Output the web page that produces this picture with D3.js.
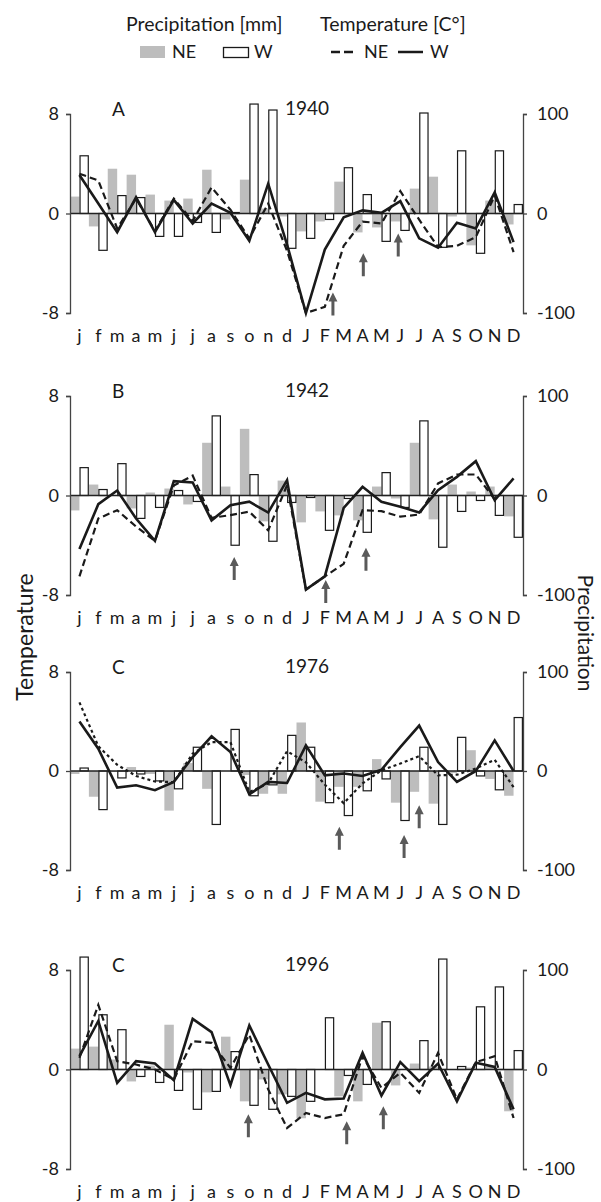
<!DOCTYPE html>
<html>
<head>
<meta charset="utf-8">
<script src="https://cdn.jsdelivr.net/npm/d3@7"></script>
<style>
  html, body { margin: 0; padding: 0; background: #fff; }
  svg { display: block; font-family: Lato, "Open Sans", sans-serif; }
</style>
</head>
<body>
<svg id="chart"></svg>
<script>
// ---------------- DATA ----------------
const months = ["j","f","m","a","m","j","j","a","s","o","n","d",
                "J","F","M","A","M","J","J","A","S","O","N","D"];
const panelLetters = ["A", "B", "C", "C"];
const panelYears = ["1940", "1942", "1976", "1996"];
const tempTicks = [-8, 0, 8];
const precTicks = [-100, 0, 100];

// 1940
const precNE1940 = [17, -13, 45, 39, 19, 13, 15, 44, -6, 34, 5, -3, -18, -8, 32, -19, -14, -8, 25, 37, -3, -32, 13, -11];
const precW1940  = [58, -37, 18, 16, -23, -23, -9, -19, 1, 110, 104, -35, -25, -6, 46, 19, -28, -17, 101, -34, 63, -40, 63, 9];
const tempNE1940 = [3.2, 2.65, -1.2, 1.2, -1.4, 1.2, -0.6, 2.1, 0.3, -2.0, 0.8, -3.0, -8.0, -7.5, -2.6, -0.65, -0.8, 1.8, -0.5, -2.7, -2.6, -1.9, 1.45, -3.1];
const tempW1940  = [3.1, 0.8, -1.5, 1.3, -1.5, 1.1, -0.8, 0.8, 0.05, -2.2, 2.4, -2.5, -8.0, -2.9, -0.3, 0.25, 0.05, 1.0, -2.0, -2.75, -0.75, -1.2, 1.7, -2.3];
const arrowPos1940 = [13.93, 15.54, 17.39];
const arrowTip1940 = [-6.35, -3.2, -1.6];

// 1942
const precNE1942 = [-15, 11, 0, -13, 3, 7, -9, 53, 9, 67, -26, 15, -27, -16, -20, -25, 9, -3, 53, -24, 11, 4, 9, -21];
const precW1942  = [28, 6, 32, -23, -12, 5, -6, 80, -50, 21, -46, -7, -2, -35, -3, -37, 23, -12, 75, -52, -16, -5, -20, -42];
const tempNE1942 = [-6.5, -1.85, -1.18, -2.5, -3.65, 0.8, 1.6, -1.8, -1.58, -1.3, -2.8, 0.83, -7.56, -6.5, -5.5, -1.18, -1.26, -1.7, -1.53, 0.97, 1.69, 1.69, -0.3, null];
const tempW1942  = [-4.3, -0.7, 0.4, -1.85, -3.65, 1.15, 1.05, -2.0, -0.78, -0.5, -1.37, 1.23, -7.56, -6.5, -1.0, 0.7, -0.5, -0.9, -1.37, 0.43, 1.5, 2.76, -0.38, 1.37];
const arrowPos1942 = [8.70, 13.55, 15.68];
const arrowTip1942 = [-4.94, -6.8, -4.2];

// 1976
const precNE1976 = [-3, -26, -1, 4, -3, -40, 8, -18, 0, -4, -23, -23, 49, -31, -16, -16, 12, -32, -21, -33, -2, 21, -8, -25];
const precW1976  = [3, -39, -7, -3, -10, -18, 24, -54, 42, -25, -14, 36, 24, -32, -45, -20, -8, -50, 24, -54, 34, -5, -19, 54];
const tempNE1976 = [5.55, 2.0, 0.5, -0.4, -0.85, -0.9, 1.4, 2.33, 2.33, -1.7, -1.0, 1.6, 0.7, -1.1, -2.6, -1.0, 0.05, 0.6, 1.2, -0.35, -0.3, 0.2, 0.9, -1.3];
const tempW1976  = [4.0, 1.8, -1.34, -1.15, -1.55, -0.88, 1.13, 2.8, 1.53, -1.88, -0.88, -0.97, 2.06, -0.35, -0.2, -0.4, 0.1, 1.93, 3.67, 0.72, -0.88, 0, 2.47, 0];
const arrowPos1976 = [14.27, 17.7, 18.5];
const arrowTip1976 = [-4.5, -5.17, -2.76];

// 1996
const precNE1996 = [21, 23, 10, -12, 4, 45, -3, -23, 33, -32, -10, -25, -49, 0, -27, -32, 47, -16, 6, 3, 0, 2, 3, -42];
const precW1996  = [113, 55, 40, -7, -13, -21, -40, -22, 18, -36, -40, -27, -32, 52, -6, -15, 48, 0, 29, 111, 3, 63, 83, 19];
const tempNE1996 = [0.94, 5.2, 0.67, 0.4, 0, -0.8, 2.28, 2.14, 0.13, 2.8, -1.6, -4.7, -3.5, -3.9, -3.6, 1.07, -1.47, -0.27, -1.88, 1.34, -2.4, 0.59, 1.07, -3.9];
const tempW1996  = [1.07, 3.9, -1.07, 0.67, 0.48, -0.86, 4.07, 3.0, -1.26, 3.54, 0.4, -2.68, -1.88, -2.4, -2.33, 1.34, -2.1, 0.59, -0.94, 0.48, -2.55, 0.54, 0.21, -3.2];
const arrowPos1996 = [9.45, 14.66, 16.6];
const arrowTip1996 = [-3.6, -4.16, -2.95];

// ---------------- LAYOUT ----------------
const W = 601, H = 1202;
const left = 70, right = 523;
const panelTop = [114, 396, 672, 970];
const panelBottom = [313, 595, 870, 1169];
const neDash = ["7,4", "7,4", "3,3", "7,4"];

const panels = [
  {precNE: precNE1940, precW: precW1940, tempNE: tempNE1940, tempW: tempW1940, aPos: arrowPos1940, aTip: arrowTip1940},
  {precNE: precNE1942, precW: precW1942, tempNE: tempNE1942, tempW: tempW1942, aPos: arrowPos1942, aTip: arrowTip1942},
  {precNE: precNE1976, precW: precW1976, tempNE: tempNE1976, tempW: tempW1976, aPos: arrowPos1976, aTip: arrowTip1976},
  {precNE: precNE1996, precW: precW1996, tempNE: tempNE1996, tempW: tempW1996, aPos: arrowPos1996, aTip: arrowTip1996}
];

const svg = d3.select("#chart").attr("width", W).attr("height", H);
const ink = "#1a1a1a", axisCol = "#444", greyBar = "#bdbdbd", arrowCol = "#5a5a5a";

// ---------------- LEGEND ----------------
const lg = svg.append("g").attr("fill", ink);
lg.append("text").attr("x", 126).attr("y", 31).attr("font-size", 19.5).text("Precipitation [mm]");
lg.append("text").attr("x", 320).attr("y", 31).attr("font-size", 19.5).text("Temperature [C°]");
lg.append("rect").attr("x", 140).attr("y", 46).attr("width", 25).attr("height", 12).attr("fill", greyBar);
lg.append("text").attr("x", 172).attr("y", 58).attr("font-size", 18).text("NE");
lg.append("rect").attr("x", 223.5).attr("y", 47.5).attr("width", 25).attr("height", 10)
  .attr("fill", "#fff").attr("stroke", ink).attr("stroke-width", 1.3);
lg.append("text").attr("x", 254).attr("y", 58).attr("font-size", 18).text("W");
lg.append("line").attr("x1", 331).attr("x2", 354).attr("y1", 52).attr("y2", 52)
  .attr("stroke", ink).attr("stroke-width", 2.5).attr("stroke-dasharray", "9,4");
lg.append("text").attr("x", 364).attr("y", 58).attr("font-size", 18).text("NE");
lg.append("line").attr("x1", 398).attr("x2", 423).attr("y1", 52).attr("y2", 52)
  .attr("stroke", ink).attr("stroke-width", 2.5);
lg.append("text").attr("x", 430).attr("y", 58).attr("font-size", 18).text("W");

// ---------------- AXIS TITLES ----------------
svg.append("text").attr("transform", "translate(33,637) rotate(-90)")
  .attr("text-anchor", "middle").attr("font-size", 23).attr("fill", ink).text("Temperature");
svg.append("text").attr("transform", "translate(578,633) rotate(90)")
  .attr("text-anchor", "middle").attr("font-size", 21).attr("fill", ink).text("Precipitation");

// ---------------- PANELS ----------------
const x = d3.scaleBand().domain(d3.range(months.length)).range([left, right]).padding(0);
const xl = d3.scaleLinear().domain([0, months.length]).range([left, right]);
const bw = x.bandwidth();

panels.forEach((p, k) => {
  const yT = d3.scaleLinear().domain([-8, 8]).range([panelBottom[k], panelTop[k]]);
  const yP = d3.scaleLinear().domain([-100, 100]).range([panelBottom[k], panelTop[k]]);
  const g = svg.append("g");

  // NE bars (grey)
  g.append("g").selectAll("rect").data(p.precNE).join("rect")
    .attr("x", (d, i) => x(i))
    .attr("width", bw / 2)
    .attr("y", d => yP(Math.max(0, d)))
    .attr("height", d => Math.abs(yP(d) - yP(0)))
    .attr("fill", greyBar);

  // W bars (white, outlined)
  g.append("g").selectAll("rect").data(p.precW).join("rect")
    .attr("x", (d, i) => x(i) + bw / 2 + 0.6)
    .attr("width", bw / 2 - 1.2)
    .attr("y", d => yP(Math.max(0, d)))
    .attr("height", d => Math.abs(yP(d) - yP(0)))
    .attr("fill", "#fff").attr("stroke", ink).attr("stroke-width", 1.2);

  // zero line
  g.append("line").attr("x1", left).attr("x2", right)
    .attr("y1", yT(0)).attr("y2", yT(0))
    .attr("stroke", "#222").attr("stroke-width", 1.5);

  // left axis
  const ax = g.append("g").attr("transform", `translate(${left},0)`)
    .call(d3.axisLeft(yT).tickValues(tempTicks).tickSize(4).tickSizeOuter(4).tickPadding(7)
      .tickFormat(d => String(d)));
  // right axis
  const ay = g.append("g").attr("transform", `translate(${right},0)`)
    .call(d3.axisRight(yP).tickValues(precTicks).tickSize(4).tickSizeOuter(4).tickPadding(10)
      .tickFormat(d => String(d)));
  [ax, ay].forEach(a => {
    a.selectAll("path, line").attr("stroke", axisCol).attr("stroke-width", 1.3);
    a.selectAll("text").attr("font-size", 18).attr("fill", ink)
      .attr("font-family", 'Lato, "Open Sans", sans-serif');
  });

  // lines
  const line = d3.line().defined(d => d != null)
    .x((d, i) => x(i) + bw / 2).y(d => yT(d));
  g.append("path").datum(p.tempNE).attr("d", line)
    .attr("fill", "none").attr("stroke", ink).attr("stroke-width", 2.2)
    .attr("stroke-dasharray", neDash[k]);
  g.append("path").datum(p.tempW).attr("d", line)
    .attr("fill", "none").attr("stroke", ink).attr("stroke-width", 2.6)
    .attr("stroke-linejoin", "miter");

  // arrows
  g.append("g").selectAll("path").data(p.aPos).join("path")
    .attr("transform", (d, i) => `translate(${xl(d)},${yT(p.aTip[i])})`)
    .attr("d", "M0,0L4.5,9L1.5,9L1.5,23L-1.5,23L-1.5,9L-4.5,9Z")
    .attr("fill", arrowCol);

  // month labels
  g.append("g").selectAll("text").data(months).join("text")
    .attr("x", (d, i) => x(i) + bw / 2)
    .attr("y", panelBottom[k] + 29)
    .attr("text-anchor", "middle").attr("font-size", 18).attr("fill", ink)
    .text(d => d);

  // titles
  g.append("text").attr("x", 112).attr("y", panelTop[k] + 2)
    .attr("font-size", 19).attr("fill", ink).text(panelLetters[k]);
  g.append("text").attr("x", 307).attr("y", panelTop[k] + 1)
    .attr("text-anchor", "middle").attr("font-size", 19).attr("fill", ink).text(panelYears[k]);
});
</script>
</body>
</html>
